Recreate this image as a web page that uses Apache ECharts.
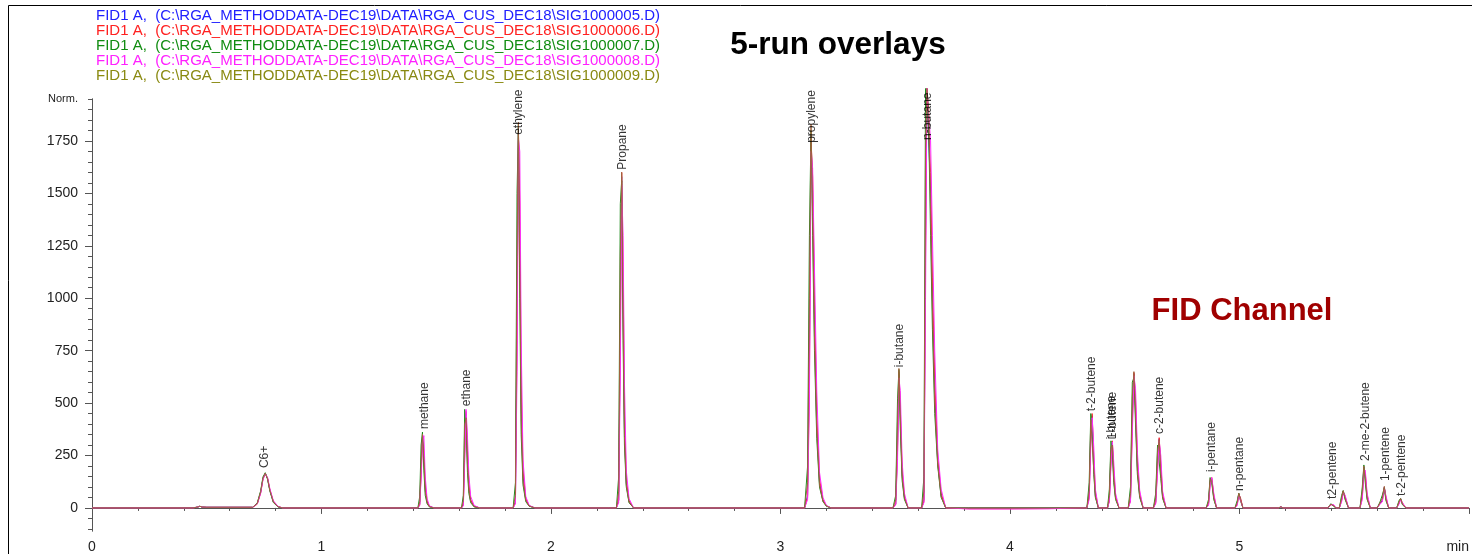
<!DOCTYPE html>
<html>
<head>
<meta charset="utf-8">
<title>5-run overlays</title>
<script src="https://cdn.jsdelivr.net/npm/echarts@6/dist/echarts.min.js"></script>
<style>
  html, body { margin: 0; padding: 0; background: #fff; }
  #chart { width: 1472px; height: 554px; }
</style>
</head>
<body>
<div id="chart"></div>
<script>
// FID overlay of five runs
const FONT = "'Liberation Sans', Arial, sans-serif";

const runNames = [
  "FID1 A,  (C:\\RGA_METHODDATA-DEC19\\DATA\\RGA_CUS_DEC18\\SIG1000005.D)",
  "FID1 A,  (C:\\RGA_METHODDATA-DEC19\\DATA\\RGA_CUS_DEC18\\SIG1000006.D)",
  "FID1 A,  (C:\\RGA_METHODDATA-DEC19\\DATA\\RGA_CUS_DEC18\\SIG1000007.D)",
  "FID1 A,  (C:\\RGA_METHODDATA-DEC19\\DATA\\RGA_CUS_DEC18\\SIG1000008.D)",
  "FID1 A,  (C:\\RGA_METHODDATA-DEC19\\DATA\\RGA_CUS_DEC18\\SIG1000009.D)",
];
const lineColors = ["#2a2aff", "#ff2a2a", "#1c8c1c", "#ff2aff", "#a0623c"];
const textColors = ["#2020ff", "#ff2020", "#108c10", "#ff20ff", "#8a8a10"];

// retention time (min)
const times = [
  0, 0.44, 0.46, 0.47, 0.48, 0.50,
  0.70, 0.72, 0.735, 0.745, 0.755, 0.765, 0.775, 0.79, 0.81, 0.83,
  1.00, 1.40,
  1.420, 1.428, 1.434, 1.440, 1.446, 1.452, 1.460, 1.470, 1.490,
  1.610, 1.618, 1.624, 1.630, 1.636, 1.642, 1.650, 1.665, 1.690,
  1.835, 1.845, 1.852, 1.858, 1.864, 1.870, 1.878, 1.890, 1.905, 1.930,
  2.250,
  2.285, 2.295, 2.302, 2.308, 2.314, 2.320, 2.328, 2.340, 2.360,
  3.050,
  3.105, 3.118, 3.126, 3.133, 3.140, 3.148, 3.158, 3.170, 3.185, 3.200, 3.220,
  3.490, 3.502, 3.510, 3.516, 3.522, 3.530, 3.540, 3.556,
  3.615, 3.625, 3.632, 3.638, 3.646, 3.654, 3.662, 3.672, 3.685, 3.700, 3.720,
  3.820, 4.000, 4.170, 4.320,
  4.335, 4.345, 4.352, 4.358, 4.365, 4.372, 4.385,
  4.425, 4.433, 4.440, 4.446, 4.452, 4.460, 4.475,
  4.515, 4.525, 4.533, 4.540, 4.547, 4.555, 4.565, 4.580,
  4.625, 4.635, 4.643, 4.650, 4.657, 4.665, 4.680,
  4.855, 4.865, 4.872, 4.879, 4.888, 4.900,
  4.980, 4.990, 4.997, 5.004, 5.015,
  5.170, 5.180, 5.190,
  5.385, 5.398, 5.410, 5.420,
  5.435, 5.445, 5.452, 5.460, 5.475,
  5.525, 5.535, 5.542, 5.548, 5.556, 5.570,
  5.600, 5.612, 5.622, 5.631, 5.638, 5.650,
  5.685, 5.695, 5.702, 5.710, 5.725,
  6.000,
];

const run005 = [
  0, 0, 4, 8, 4, 3,
  3, 20, 75, 140, 165, 140, 85, 30, 6, 0,
  0, 0,
  0, 20, 180, 340, 250, 90, 30, 8, 0,
  0, 20, 300, 450, 250, 100, 35, 8, 0,
  0, 30, 900, 1790, 1300, 500, 150, 40, 10, 0,
  0,
  0, 40, 900, 1580, 1000, 380, 120, 30, 0,
  0,
  0, 60, 700, 1780, 1500, 900, 400, 120, 35, 10, 0,
  0, 20, 300, 640, 450, 160, 50, 0,
  0, 40, 1300, 2000, 2000, 1500, 1000, 550, 220, 60, 0,
  0, 0, 0, 0,
  0, 60, 380, 440, 200, 60, 0,
  0, 40, 260, 310, 160, 50, 0,
  0, 40, 450, 640, 480, 200, 60, 0,
  0, 30, 230, 330, 180, 55, 0,
  0, 20, 130, 140, 50, 0,
  0, 20, 68, 45, 0,
  0, 5, 0,
  0, 18, 12, 0,
  0, 40, 80, 50, 0,
  0, 60, 195, 150, 50, 0,
  0, 22, 35, 100, 45, 0,
  0, 25, 44, 20, 0,
  0,
];

const run006 = [
  0, 0, 4, 8, 4, 3,
  3, 18, 72, 138, 162, 142, 88, 32, 7, 0,
  0, 0,
  0, 15, 160, 330, 270, 110, 35, 8, 0,
  0, 15, 260, 460, 280, 120, 40, 8, 0,
  0, 25, 800, 1800, 1450, 600, 180, 45, 10, 0,
  0,
  0, 35, 800, 1600, 1150, 450, 140, 35, 0,
  0,
  0, 50, 600, 1760, 1580, 1000, 450, 140, 40, 10, 0,
  0, 18, 270, 650, 480, 180, 55, 0,
  0, 30, 1200, 2000, 2000, 1600, 1100, 620, 240, 70, 0,
  -4, -4, -3, 0,
  0, 50, 340, 450, 240, 75, 0,
  0, 35, 230, 320, 180, 55, 0,
  0, 35, 400, 645, 520, 230, 70, 0,
  0, 25, 200, 335, 210, 65, 0,
  0, 15, 120, 145, 60, 0,
  0, 15, 65, 50, 0,
  0, 5, 0,
  0, 16, 14, 0,
  0, 35, 78, 55, 0,
  0, 50, 185, 165, 60, 0,
  0, 20, 30, 98, 52, 0,
  0, 22, 42, 24, 0,
  0,
];

const run007 = [
  0, 0, 4, 8, 4, 3,
  3, 24, 82, 148, 168, 136, 80, 26, 5, 0,
  0, 0,
  0, 55, 300, 362, 180, 60, 20, 5, 0,
  0, 60, 470, 380, 170, 70, 25, 5, 0,
  0, 120, 1500, 1830, 1000, 350, 110, 30, 8, 0,
  0,
  0, 150, 1450, 1560, 800, 300, 100, 25, 0,
  0,
  0, 200, 1300, 1800, 1300, 750, 330, 100, 30, 8, 0,
  0, 60, 520, 660, 380, 130, 40, 0,
  0, 150, 2000, 2000, 1800, 1300, 850, 450, 200, 50, 0,
  0, 0, 0, 0,
  0, 120, 450, 380, 160, 50, 0,
  0, 90, 320, 260, 120, 40, 0,
  0, 100, 600, 620, 400, 160, 50, 0,
  0, 70, 300, 300, 140, 45, 0,
  0, 40, 145, 120, 40, 0,
  0, 35, 70, 35, 0,
  0, 5, 0,
  0, 20, 8, 0,
  0, 60, 83, 40, 0,
  0, 100, 205, 120, 40, 0,
  0, 28, 60, 95, 35, 0,
  0, 35, 45, 15, 0,
  0,
];

const run008 = [
  0, 0, 4, 8, 4, 3,
  3, 19, 70, 135, 163, 145, 92, 35, 8, 0,
  0, 0,
  0, 12, 140, 310, 345, 150, 45, 10, 0,
  0, 10, 220, 470, 340, 160, 55, 12, 0,
  0, 20, 650, 1760, 1700, 800, 230, 55, 12, 0,
  0,
  0, 25, 650, 1540, 1300, 600, 180, 45, 0,
  0,
  0, 40, 500, 1700, 1620, 1150, 560, 170, 50, 12, 0,
  0, 15, 230, 620, 560, 220, 70, 0,
  0, 25, 1000, 2000, 2000, 1750, 1300, 750, 280, 90, 0,
  -5, -5, -4, 0,
  0, 40, 300, 430, 290, 90, 0,
  0, 30, 200, 315, 220, 70, 0,
  0, 30, 350, 630, 570, 270, 85, 0,
  0, 20, 170, 320, 250, 80, 0,
  0, 12, 105, 145, 70, 0,
  0, 12, 60, 58, 0,
  0, 5, 0,
  0, 15, 16, 0,
  0, 30, 72, 62, 0,
  0, 40, 170, 180, 70, 0,
  0, 18, 28, 90, 60, 0,
  0, 18, 38, 30, 0,
  0,
];

const run009 = [
  0, 0, 4, 8, 4, 3,
  3, 21, 78, 142, 166, 139, 84, 29, 6, 0,
  0, 0,
  0, 30, 220, 352, 230, 80, 25, 6, 0,
  0, 35, 400, 430, 210, 85, 30, 6, 0,
  0, 60, 1200, 1840, 1150, 420, 130, 35, 9, 0,
  0,
  0, 80, 1200, 1600, 900, 340, 110, 28, 0,
  0,
  0, 120, 1000, 1830, 1400, 820, 370, 110, 32, 9, 0,
  0, 40, 420, 665, 420, 150, 45, 0,
  0, 80, 1700, 2000, 1900, 1400, 950, 500, 210, 55, 0,
  0, 0, 0, 0,
  0, 80, 420, 420, 180, 55, 0,
  0, 60, 290, 300, 140, 45, 0,
  0, 70, 530, 650, 440, 180, 55, 0,
  0, 50, 270, 325, 160, 50, 0,
  0, 30, 140, 130, 45, 0,
  0, 25, 70, 40, 0,
  0, 5, 0,
  0, 18, 10, 0,
  0, 50, 82, 45, 0,
  0, 80, 200, 140, 45, 0,
  0, 25, 45, 103, 40, 0,
  0, 30, 45, 18, 0,
  0,
];

// peak annotations
const peakNames = ["C6+", "methane", "ethane", "ethylene", "Propane", "propylene", "i-butane", "n-butane",
  "t-2-butene", "i-butene", "1-butene", "c-2-butene", "i-pentane", "n-pentane",
  "t2-pentene", "2-me-2-butene", "1-pentene", "t-2-pentene"];
const peakTimes = [0.753, 1.449, 1.632, 1.858, 2.311, 3.138, 3.521, 3.643,
  4.357, 4.444, 4.446, 4.651, 4.878, 5.0,
  5.405, 5.549, 5.636, 5.705];
const peakHeights = [190, 376, 485, 1779, 1613, 1741, 671, 1755,
  461, 328, 328, 352, 171, 81,
  43, 224, 128, 57];

// axis ticks
const yMajorTicks = [0, 250, 500, 750, 1000, 1250, 1500, 1750];
const yLabelValues = [0, 250, 500, 750, 1000, 1250, 1500, 1750, 1950];
const yMinorTicks = [-100, -50, 0, 50, 100, 150, 200, 250, 300, 350, 400, 450, 500, 550, 600, 650,
  700, 750, 800, 850, 900, 950, 1000, 1050, 1100, 1150, 1200, 1250, 1300, 1350, 1400, 1450,
  1500, 1550, 1600, 1650, 1700, 1750, 1800, 1850, 1900, 1950];

const runs = [run005, run006, run007, run008, run009];
runs.forEach((r, i) => {
  if (r.length !== times.length) {
    throw new Error("run " + i + " has " + r.length + " values, times has " + times.length);
  }
});

const chart = echarts.init(document.getElementById("chart"));

const series = runs.map((vals, i) => ({
  name: runNames[i],
  type: "line",
  data: times.map((t, k) => [t, vals[k]]),
  symbol: "none",
  clip: false,
  animation: false,
  color: lineColors[i],
  lineStyle: { width: 1, color: lineColors[i] },
  z: 2 + i,
}));

series.push({
  name: "peaks",
  type: "scatter",
  symbolSize: 0,
  silent: true,
  animation: false,
  clip: false,
  z: 20,
  data: peakNames.map((n, i) => ({ name: n, value: [peakTimes[i], peakHeights[i]] })),
  label: {
    show: true,
    formatter: "{b}",
    position: "top",
    distance: 0,
    rotate: 90,
    align: "left",
    verticalAlign: "middle",
    fontFamily: FONT,
    fontSize: 12,
    color: "#000",
  },
});

chart.setOption({
  animation: false,
  grid: { left: 92, right: 2, top: 99, bottom: 22 },
  legend: {
    orient: "vertical",
    left: 91,
    top: 8,
    padding: 0,
    itemGap: 0,
    itemWidth: 0,
    itemHeight: 0,
    icon: "none",
    selectedMode: false,
    itemStyle: { opacity: 0 },
    lineStyle: { opacity: 0 },
    textStyle: { fontFamily: FONT, fontSize: 15, lineHeight: 15 },
    data: runNames.map((n, i) => ({ name: n, textStyle: { color: textColors[i] } })),
  },
  graphic: [
    {
      type: "rect",
      silent: true,
      shape: { x: 8.5, y: 5.5, width: 1600, height: 700 },
      style: { fill: "none", stroke: "#000", lineWidth: 1 },
    },
    {
      type: "text",
      x: 838,
      y: 45,
      style: {
        text: "5-run overlays",
        align: "center",
        verticalAlign: "middle",
        fontFamily: FONT,
        fontSize: 31.5,
        fontWeight: "bold",
        fill: "#000",
      },
    },
    {
      type: "text",
      x: 1242,
      y: 311,
      style: {
        text: "FID Channel",
        align: "center",
        verticalAlign: "middle",
        fontFamily: FONT,
        fontSize: 31,
        fontWeight: "bold",
        fill: "#a00000",
      },
    },
  ],
  xAxis: {
    type: "value",
    min: 0,
    max: 6,
    interval: 1,
    axisLine: { lineStyle: { color: "#555" } },
    axisTick: { length: 6, lineStyle: { color: "#555" } },
    minorTick: { show: true, splitNumber: 5, length: 3, lineStyle: { color: "#555" } },
    splitLine: { show: false },
    minorSplitLine: { show: false },
    axisLabel: {
      margin: 9,
      fontFamily: FONT,
      fontSize: 14,
      color: "#222",
      alignMaxLabel: "right",
      formatter: (v) => (v === 6 ? "min" : String(v)),
    },
  },
  yAxis: [
    {
      type: "value",
      min: -110,
      max: 1950,
      position: "left",
      axisLine: { show: true, lineStyle: { color: "#555" } },
      axisTick: { show: true, length: 7, customValues: yMajorTicks, lineStyle: { color: "#555" } },
      splitLine: { show: false },
      axisLabel: {
        customValues: yLabelValues,
        showMaxLabel: true,
        margin: 14,
        fontFamily: FONT,
        fontSize: 14,
        color: "#222",
        formatter: (v) => (v === 1950 ? "{n|Norm.}" : String(v)),
        rich: { n: { fontFamily: FONT, fontSize: 11, color: "#222" } },
      },
    },
    {
      type: "value",
      min: -110,
      max: 1950,
      position: "left",
      axisLine: { show: true, lineStyle: { color: "#555" } },
      axisTick: { show: true, length: 4, customValues: yMinorTicks, lineStyle: { color: "#555" } },
      axisLabel: { show: false },
      splitLine: { show: false },
    },
  ],
  series: series,
});
</script>
</body>
</html>
